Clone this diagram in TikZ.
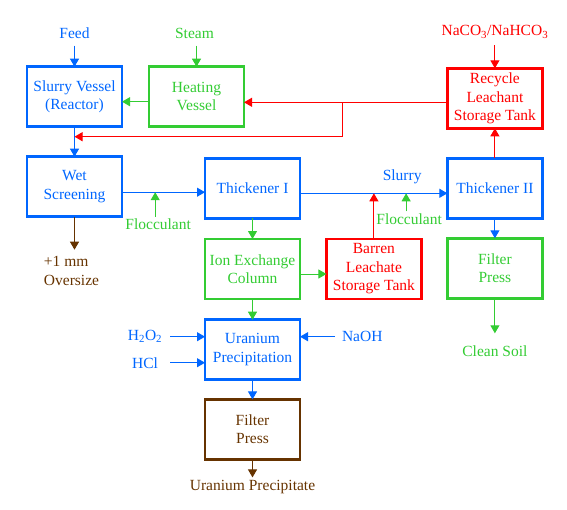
\documentclass[tikz,border=0pt]{standalone}
\usepackage{fontspec}
\setmainfont{Liberation Serif}
\usepackage{tikz}
\usetikzlibrary{shapes}
\usetikzlibrary{positioning}
\usetikzlibrary{calc}
\usetikzlibrary{arrows.meta}
\definecolor{flowblue}{RGB}{0,102,255}
\definecolor{flowgreen}{RGB}{51,204,51}
\definecolor{flowred}{RGB}{255,0,0}
\definecolor{flowbrown}{RGB}{102,51,0}
\tikzstyle{unit} = [rectangle,draw,line width=2.5pt,align=center,minimum width=95pt,minimum height=60pt,inner sep=2pt,outer sep=0pt]
\tikzstyle{stream} = [inner sep=2pt,outer sep=5pt,align=center]
\tikzstyle{flow} = [-{Triangle[length=8pt,width=9pt]},line width=1pt]

\begin{document}
\begin{tikzpicture}[font=\fontsize{15.5}{18.5}\selectfont]
	
	\useasboundingbox (0,0) rectangle (567pt,-509pt);
	
	\node (1) [unit,flowblue] at (74.5pt,-96.7pt) {Slurry Vessel\\(Reactor)};
	\node (2) [unit,flowgreen,right=27pt of 1] {Heating\\Vessel};
	\node (4) [unit,flowblue,below=30pt of 1] {Wet\\Screening};
	\node (5) [unit,flowblue,right=83pt of 4,yshift=-1.6pt] {Thickener I};
	\node (6) [unit,flowblue,right=147.4pt of 5] {Thickener II};
	\node (3) [unit,flowred,above=30pt of 6] {Recycle\\Leachant\\Storage Tank};
	\node (7) [unit,flowgreen,below=20.7pt of 5] {Ion Exchange\\Column};
	\node (8) [unit,flowred,right=26.4pt of 7] {Barren\\Leachate\\Storage Tank};
	\node (9) [unit,flowgreen,below=20pt of 6] {Filter\\Press};
	\node (10) [unit,flowblue,below=20.7pt of 7] {Uranium\\Precipitation};
	\node (11) [unit,flowbrown,below=19.7pt of 10] {Filter\\Press};
	
	% feeds and products
	\node (feed) [stream,flowblue,above=21pt of 1] {Feed};
	\node (steam) [stream,flowgreen,above=21pt of 2,xshift=-2pt] {Steam};
	\node (soda) [stream,flowred,above=23pt of 3] {NaCO\textsubscript{3}/NaHCO\textsubscript{3}};
	\node (over) [stream,flowbrown,align=left,below=33pt of 4,xshift=-3pt] {+1 mm\\Oversize};
	\node (soil) [stream,flowgreen,outer sep=10pt,below=35pt of 9] {Clean Soil};
	\node (prod) [stream,flowbrown,outer sep=1pt,below=18pt of 11] {Uranium Precipitate};
	
	% helper points on the lines
	\coordinate (r0) at ([yshift=-4pt]3.west);
	\coordinate (r1) at ([xshift=-105pt]r0);
	\coordinate (j) at ([yshift=-10pt]1.south);
	\coordinate (s1) at ([yshift=-5.5pt]4.east);
	\coordinate (s1e) at (s1 -| 5.west);
	\coordinate (m1) at ($(s1)!0.4!(s1e)$);
	\coordinate (s2) at ([yshift=-5pt]5.east);
	\coordinate (s2e) at (s2 -| 6.west);
	\coordinate (m3) at ($(s2)!0.72!(s2e)$);
	\coordinate (u1) at ([yshift=13pt]10.west);
	\coordinate (u2) at ([yshift=-13pt]10.west);
	\coordinate (u3) at ([yshift=13pt]10.east);
	\coordinate (h0) at ([yshift=-5pt]2.west);
	\coordinate (i0) at ([yshift=-5pt]7.east);
	
	\node (f1) [stream,outer sep=0pt,flowgreen,below=25pt of m1,xshift=3pt] {Flocculant};
	\node (f2) [stream,outer sep=0pt,flowgreen,below=18pt of m3,xshift=3pt] {Flocculant};
	\node (slurry) [stream,outer sep=0pt,flowblue,above=7pt of m3,xshift=-4pt] {Slurry};
	\node (h2o2) [stream,flowblue,minimum width=40pt,left=35pt of u1] {H\textsubscript{2}O\textsubscript{2}};
	\node (hcl) [stream,flowblue,minimum width=40pt,left=35pt of u2] {HCl};
	\node (naoh) [stream,flowblue,right=35pt of u3] {NaOH};
	
	\path[flow,flowblue]
		(feed) edge (1)
		(1) edge (4)
		(s1) edge (s1e)
		(s2) edge (s2e)
		(6) edge (9)
		(h2o2) edge (u1)
		(hcl) edge (u2)
		(naoh) edge (u3)
		(10) edge (11);
	\path[flow,flowgreen]
		(steam.south -| 2.north) edge (2)
		(h0) edge (h0 -| 1.east)
		(f1.north -| m1) edge (m1)
		(f2.north -| m3) edge (m3)
		(5) edge (7)
		(i0) edge (i0 -| 8.west)
		(9) edge (soil)
		(7) edge (10);
	\path[flow,flowred]
		(soda) edge (3)
		(r0) edge (r0 -| 2.east)
		(6) edge (3)
		(8) edge (8.north |- s2);
	\draw[flow,flowred] (r1) |- (j);
	\path[flow,flowbrown]
		(4) edge (over.north -| 4.south)
		(11) edge (prod);
\end{tikzpicture}
\end{document}
